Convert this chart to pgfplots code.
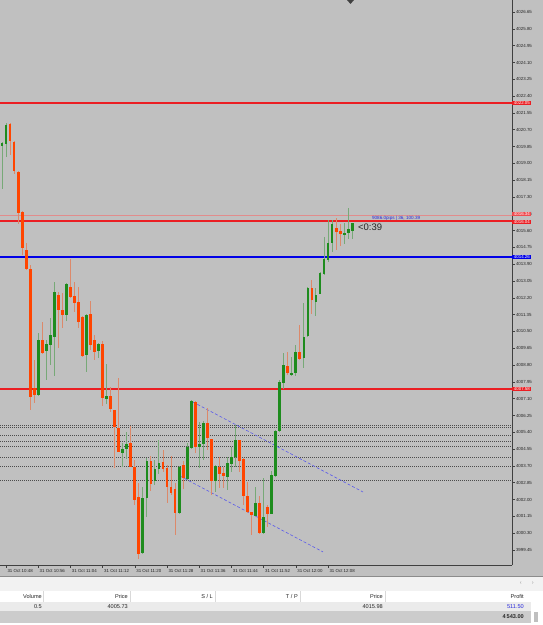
\documentclass[border=0pt]{standalone}
\usepackage{pgfplots}
\pgfplotsset{compat=1.18}
\usepackage{pgfplotstable}
\usepackage{fontspec}
\setmainfont{Liberation Sans}

\definecolor{bg}{RGB}{192,192,192}
\definecolor{bull}{RGB}{30,140,30}
\definecolor{bear}{RGB}{255,69,0}
\definecolor{lvlred}{RGB}{235,30,35}
\definecolor{lvlpink}{RGB}{225,140,140}
\definecolor{lvlblue}{RGB}{0,0,230}
\definecolor{trend}{RGB}{90,90,235}
\definecolor{pblue}{RGB}{40,40,220}

% x = candle index (1 minute each, index 1 = 31 Oct 10:48)
\pgfplotstableread{
x o h l c
0 4019.88 4020.05 4017.70 4020.03
1 4019.98 4021.04 4019.32 4020.94
9 4007.30 4010.42 4007.25 4010.07
11 4009.51 4010.07 4008.05 4009.87
12 4009.82 4011.18 4008.81 4010.32
13 4010.22 4013.00 4008.25 4012.50
16 4011.33 4012.95 4011.03 4012.90
21 4009.31 4011.38 4008.45 4011.33
24 4009.51 4009.92 4009.16 4009.87
26 4007.09 4008.86 4006.83 4007.24
30 4004.36 4004.86 4003.65 4004.56
31 4004.56 4005.42 4004.05 4004.81
35 3999.30 4002.64 3999.25 4002.08
36 4002.08 4004.10 4001.12 4003.95
38 4002.94 4004.00 4002.74 4003.55
39 4003.55 4005.01 4003.29 4003.85
44 4001.32 4003.70 4001.30 4003.65
46 4003.04 4004.86 4002.99 4004.66
47 4004.61 4007.04 4004.56 4006.99
49 4004.66 4005.92 4003.60 4004.81
50 4004.81 4005.97 4004.00 4005.87
53 4002.94 4003.75 4002.38 4003.70
56 4003.14 4004.15 4002.49 4003.85
57 4003.80 4004.66 4003.40 4004.15
58 4004.15 4005.77 4003.65 4005.01
63 4001.17 4002.64 4001.15 4001.83
65 4000.31 4003.09 4000.28 4001.12
67 4001.27 4003.45 4001.25 4003.24
68 4003.19 4005.52 4003.17 4005.47
69 4005.47 4008.05 4005.45 4007.95
70 4007.90 4009.41 4007.59 4008.81
72 4008.35 4009.21 4008.25 4008.40
73 4008.40 4009.82 4008.25 4009.46
75 4009.16 4011.94 4008.65 4010.22
76 4010.27 4012.75 4010.25 4012.70
78 4011.99 4012.70 4011.28 4012.35
79 4012.40 4013.51 4012.38 4013.46
80 4013.41 4015.28 4013.36 4014.17
81 4014.11 4016.14 4014.01 4014.97
82 4014.97 4016.14 4014.52 4015.93
85 4015.43 4015.98 4014.92 4015.48
86 4015.48 4016.74 4015.18 4015.68
87 4015.58 4015.98 4015.18 4015.98
}\bulls

\pgfplotstableread{
x o h l c
2 4020.99 4021.02 4019.42 4020.13
3 4020.08 4020.13 4018.46 4018.61
4 4018.56 4018.61 4015.93 4016.49
5 4016.54 4016.59 4014.37 4014.72
6 4014.62 4014.97 4013.61 4013.66
7 4013.66 4013.86 4006.53 4007.19
8 4007.64 4009.06 4006.88 4007.29
10 4010.07 4010.98 4009.38 4009.41
14 4012.35 4012.50 4009.67 4011.59
15 4011.59 4012.45 4010.68 4011.33
17 4012.75 4014.17 4012.22 4012.24
18 4012.29 4013.00 4011.49 4011.94
19 4011.99 4012.75 4010.68 4010.98
20 4011.23 4011.28 4009.21 4009.26
22 4011.38 4012.04 4009.56 4009.82
23 4010.07 4010.32 4009.06 4009.46
25 4009.87 4010.02 4006.73 4007.14
27 4007.24 4007.69 4006.43 4006.58
28 4006.53 4006.55 4003.60 4005.67
29 4005.62 4008.15 4004.39 4004.41
32 4004.86 4005.72 4003.63 4003.65
33 4003.65 4004.00 4001.73 4001.98
34 4002.13 4002.84 3999.00 3999.25
37 4003.95 4004.20 4002.43 4002.79
40 4003.90 4004.51 4003.40 4003.55
41 4003.60 4003.75 4001.83 4002.64
42 4002.64 4004.20 4002.23 4002.33
43 4002.54 4002.84 4000.21 4001.32
45 4003.75 4003.95 4002.54 4003.09
48 4006.94 4006.99 4004.36 4004.66
51 4005.87 4006.63 4004.51 4005.11
52 4005.06 4005.08 4002.23 4002.94
54 4003.65 4004.15 4002.59 4003.29
55 4003.35 4003.65 4002.59 4003.19
59 4005.01 4005.05 4003.40 4003.95
60 4004.05 4004.10 4001.73 4002.18
61 4002.18 4002.89 4001.35 4001.37
62 4001.37 4001.40 4000.21 4001.22
64 4001.83 4002.18 4000.29 4000.31
66 4001.63 4001.73 4000.61 4001.27
71 4008.76 4009.46 4008.30 4008.40
74 4009.46 4010.83 4009.06 4009.11
77 4012.70 4013.10 4011.38 4012.09
83 4015.73 4016.24 4014.62 4015.53
84 4015.58 4015.93 4014.82 4015.43
}\bears

\pgfplotsset{
  candle/.style n args={2}{only marks, mark=*, mark size=0.01pt,
    mark options={draw opacity=0, fill opacity=0}, forget plot,
    error bars/.cd, y dir=both, y explicit, error mark=none,
    error bar style={line width=#1, draw=#2, solid}},
}

\begin{document}
\begin{tikzpicture}
\path[use as bounding box] (0pt,-60pt) rectangle (543pt,565pt);
% backgrounds
\fill[bg] (0pt,-11pt) rectangle (543pt,565pt);
\fill[black!5] (0pt,-11pt) rectangle (543pt,-26pt);
\fill[white] (0pt,-26pt) rectangle (543pt,-60pt);
\fill[black!8] (0pt,-37pt) rectangle (531pt,-46pt);
\fill[black!20] (0pt,-46pt) rectangle (531pt,-58pt);
\draw[black!45] (0pt,-11pt) -- (543pt,-11pt);
\foreach \xx in {43,130,215,300,385}{\draw[black!15] (\xx pt,-26pt) -- (\xx pt,-37pt);}
\fill[black!25] (534pt,-47pt) rectangle (538pt,-57pt);

\begin{axis}[
  at={(0pt,0pt)}, anchor=south west,
  scale only axis, width=512pt, height=565pt,
  xmin=-0.5, xmax=126.7, ymin=3998.69, ymax=4027.26,
  axis x line*=bottom, axis y line*=right,
  axis line style={-, black!75, line width=0.8pt},
  clip=false,
  tick align=outside, major tick length=3pt,
  tick style={black!75, line width=0.5pt},
  scaled y ticks=false,
  ytick={3999.45,4000.30,4001.15,4002.00,4002.85,4003.70,4004.55,4005.40,4006.25,4007.10,4007.95,4008.80,4009.65,4010.50,4011.35,4012.20,4013.05,4013.90,4014.75,4015.60,4016.45,4017.30,4018.15,4019.00,4019.85,4020.70,4021.55,4022.40,4023.25,4024.10,4024.95,4025.80,4026.65},
  yticklabel style={font=\fontsize{4.4}{5}\selectfont, text=black!85, inner sep=0.8pt,
    /pgf/number format/.cd, fixed, fixed zerofill, precision=2, 1000 sep={}, assume math mode=true},
  xtick={1,9,17,25,33,41,49,57,65,73,81},
  xticklabels={31 Oct 10:48,31 Oct 10:56,31 Oct 11:04,31 Oct 11:12,31 Oct 11:20,31 Oct 11:28,31 Oct 11:36,31 Oct 11:44,31 Oct 11:52,31 Oct 12:00,31 Oct 12:08},
  xticklabel style={font=\fontsize{4.4}{5}\selectfont, text=black!85, anchor=north west, inner sep=0.8pt, xshift=0.5pt},
]
% dotted order lines
\foreach \p in {4005.77,4005.66,4005.27,4004.93,4004.67,4004.14,4003.70,4002.99}{
  \edef\tmp{\noexpand\addplot[black!70, line width=0.6pt, dash pattern=on 1pt off 1pt, forget plot] coordinates {(-0.5,\p) (126.7,\p)};}
  \tmp
}
% level lines
\addplot[lvlred, line width=1.6pt, forget plot] coordinates {(-0.5,4022.05) (126.7,4022.05)};
\addplot[lvlpink, line width=1pt, forget plot] coordinates {(-0.5,4016.37) (126.7,4016.37)};
\addplot[lvlred, line width=1.6pt, forget plot] coordinates {(-0.5,4016.07) (126.7,4016.07)};
\addplot[lvlblue, line width=1.3pt, forget plot] coordinates {(-0.5,4014.26) (126.7,4014.26)};
\addplot[lvlred, line width=1.6pt, forget plot] coordinates {(-0.5,4007.58) (126.7,4007.58)};
% trend channel
\addplot[trend, line width=0.6pt, dash pattern=on 3pt off 2pt, forget plot] coordinates {(47.45,4006.93) (89.7,4002.38)};
\addplot[trend, line width=0.6pt, dash pattern=on 3pt off 2pt, forget plot] coordinates {(44.2,4003.19) (79.75,3999.35)};
% wicks
\addplot[candle={1pt}{bull!45!bg}]
  table[x=x, y expr={(\thisrow{h}+\thisrow{l})/2}, y error expr={(\thisrow{h}-\thisrow{l})/2}] {\bulls};
\addplot[candle={1pt}{bear!45!bg}]
  table[x=x, y expr={(\thisrow{h}+\thisrow{l})/2}, y error expr={(\thisrow{h}-\thisrow{l})/2}] {\bears};
% bodies
\addplot[candle={2.8pt}{bull}]
  table[x=x, y expr={(\thisrow{o}+\thisrow{c})/2}, y error expr={(\thisrow{c}-\thisrow{o})/2}] {\bulls};
\addplot[candle={2.8pt}{bear}]
  table[x=x, y expr={(\thisrow{o}+\thisrow{c})/2}, y error expr={(\thisrow{o}-\thisrow{c})/2}] {\bears};
% price-scale labels
\begin{scope}[every node/.style={anchor=west, font=\fontsize{4.4}{5}\selectfont, text=white, inner xsep=1pt, inner ysep=0.4pt, minimum width=19pt}]
\node[fill=lvlred] at (axis cs:126.75,4022.05) {4022.05};
\node[fill=lvlred!80] at (axis cs:126.75,4016.42) {4016.34};
\node[fill=lvlred] at (axis cs:126.75,4016.02) {4016.04};
\node[fill=lvlblue] at (axis cs:126.75,4014.26) {4014.26};
\node[fill=lvlred] at (axis cs:126.75,4007.58) {4007.58};
\end{scope}
\node[anchor=west, font=\fontsize{9.5}{10}\selectfont, text=black!85, inner sep=0pt] at (axis cs:88.4,4015.75) {<0:39};
\node[anchor=west, font=\fontsize{4.6}{5}\selectfont, text=pblue, inner sep=0pt] at (axis cs:91.9,4016.22) {9086.0pips | 36, 100.39};
\end{axis}
% top marker
\fill[black!75] (347pt,565pt) -- (354pt,565pt) -- (350.5pt,561pt) -- cycle;
% table texts
\begin{scope}[every node/.style={anchor=east, font=\fontsize{5.6}{6}\selectfont, text=black!85, inner sep=0pt}]
\node at (42pt,-31.5pt) {Volume};
\node at (128pt,-31.5pt) {Price};
\node at (213pt,-31.5pt) {S / L};
\node at (298pt,-31.5pt) {T / P};
\node at (383pt,-31.5pt) {Price};
\node at (524pt,-31.5pt) {Profit};
\node at (42pt,-41.5pt) {0.5};
\node at (128pt,-41.5pt) {4005.73};
\node at (383pt,-41.5pt) {4015.98};
\node[text=pblue] at (524pt,-41.5pt) {511.50};
\node[font=\fontsize{5.6}{6}\selectfont\bfseries] at (524pt,-52pt) {4\,543.00};
\node[text=black!40] at (522pt,-18.5pt) {‹};
\node[text=black!40] at (534pt,-18.5pt) {›};
\end{scope}
\end{tikzpicture}
\end{document}
